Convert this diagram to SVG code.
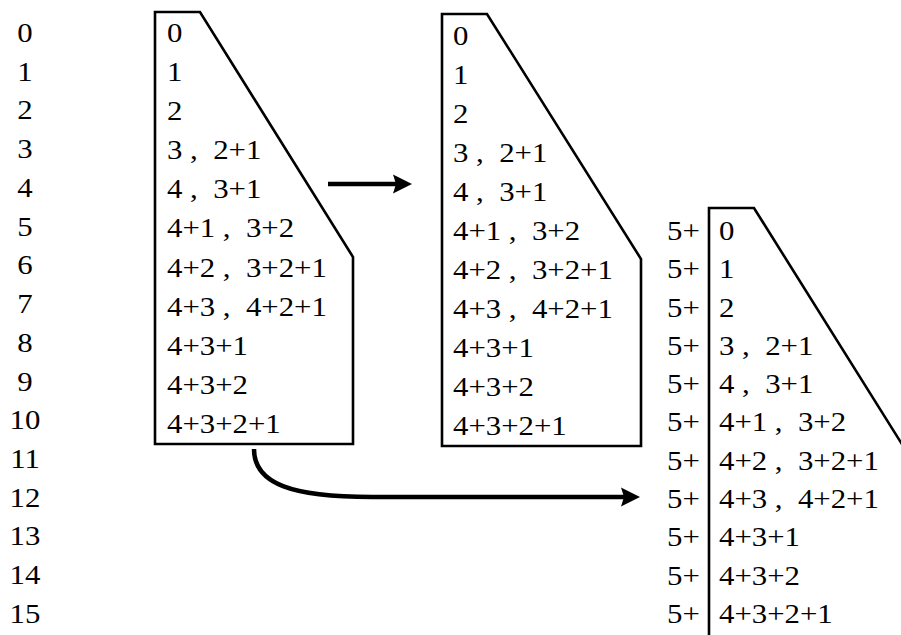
<svg xmlns="http://www.w3.org/2000/svg" width="901" height="635" viewBox="0 0 901 635">
<style>
.t{font-family:"Liberation Serif","Times New Roman",serif;font-size:28px;fill:#000}
.c{text-anchor:middle}
.box{fill:#fff;stroke:#000;stroke-width:2.6;stroke-linejoin:miter}
.edge{fill:none;stroke:#000;stroke-width:4.5}
</style>
<defs>
<marker id="ah" markerUnits="userSpaceOnUse" markerWidth="22" markerHeight="20" refX="7" refY="9.5" orient="auto" overflow="visible">
<path d="M0,0 L19,9.5 L0,19 L3,9.5 Z" fill="#000"/>
</marker>
</defs>
<rect width="901" height="635" fill="#fff"/>
<g id="index-column">
<g transform="translate(25 0) scale(1.1 1)">
<text class="t c" x="0" y="42">0</text>
<text class="t c" x="0" y="80.7">1</text>
<text class="t c" x="0" y="119.5">2</text>
<text class="t c" x="0" y="158.2">3</text>
<text class="t c" x="0" y="196.9">4</text>
<text class="t c" x="0" y="235.7">5</text>
<text class="t c" x="0" y="274.4">6</text>
<text class="t c" x="0" y="313.1">7</text>
<text class="t c" x="0" y="351.8">8</text>
<text class="t c" x="0" y="390.6">9</text>
<text class="t c" x="0" y="429.3">10</text>
<text class="t c" x="0" y="468">11</text>
<text class="t c" x="0" y="506.8">12</text>
<text class="t c" x="0" y="545.5">13</text>
<text class="t c" x="0" y="584.2">14</text>
<text class="t c" x="0" y="623">15</text>
</g>
</g>
<g id="box1">
<path class="box" d="M155,12 H200 L353,257 V444 H155 Z"/>
<g transform="translate(167 0) scale(1.1 1)">
<text class="t" x="0" y="42">0</text>
<text class="t" x="0" y="81.1">1</text>
<text class="t" x="0" y="120.2">2</text>
<text class="t" x="0" y="159.3">3 ,&#160; 2+1</text>
<text class="t" x="0" y="198.4">4 ,&#160; 3+1</text>
<text class="t" x="0" y="237.5">4+1 ,&#160; 3+2</text>
<text class="t" x="0" y="276.6">4+2 ,&#160; 3+2+1</text>
<text class="t" x="0" y="315.7">4+3 ,&#160; 4+2+1</text>
<text class="t" x="0" y="354.8">4+3+1</text>
<text class="t" x="0" y="393.9">4+3+2</text>
<text class="t" x="0" y="433">4+3+2+1</text>
</g>
</g>
<g id="box2">
<path class="box" d="M442,14 H487 L641,259 V446 H442 Z"/>
<g transform="translate(453 0) scale(1.1 1)">
<text class="t" x="0" y="45">0</text>
<text class="t" x="0" y="84">1</text>
<text class="t" x="0" y="123">2</text>
<text class="t" x="0" y="162">3 ,&#160; 2+1</text>
<text class="t" x="0" y="201">4 ,&#160; 3+1</text>
<text class="t" x="0" y="240">4+1 ,&#160; 3+2</text>
<text class="t" x="0" y="279">4+2 ,&#160; 3+2+1</text>
<text class="t" x="0" y="318">4+3 ,&#160; 4+2+1</text>
<text class="t" x="0" y="357">4+3+1</text>
<text class="t" x="0" y="396">4+3+2</text>
<text class="t" x="0" y="435">4+3+2+1</text>
</g>
</g>
<g id="box3">
<path class="box" d="M709,640 V208 H754 L920,473"/>
<g transform="translate(667 0) scale(1.1 1)">
<text class="t" x="0" y="240">5+</text>
<text class="t" x="0" y="278.3">5+</text>
<text class="t" x="0" y="316.6">5+</text>
<text class="t" x="0" y="354.9">5+</text>
<text class="t" x="0" y="393.2">5+</text>
<text class="t" x="0" y="431.5">5+</text>
<text class="t" x="0" y="469.8">5+</text>
<text class="t" x="0" y="508.1">5+</text>
<text class="t" x="0" y="546.4">5+</text>
<text class="t" x="0" y="584.7">5+</text>
<text class="t" x="0" y="623">5+</text>
</g>
<g transform="translate(719 0) scale(1.1 1)">
<text class="t" x="0" y="240">0</text>
<text class="t" x="0" y="278.3">1</text>
<text class="t" x="0" y="316.6">2</text>
<text class="t" x="0" y="354.9">3 ,&#160; 2+1</text>
<text class="t" x="0" y="393.2">4 ,&#160; 3+1</text>
<text class="t" x="0" y="431.5">4+1 ,&#160; 3+2</text>
<text class="t" x="0" y="469.8">4+2 ,&#160; 3+2+1</text>
<text class="t" x="0" y="508.1">4+3 ,&#160; 4+2+1</text>
<text class="t" x="0" y="546.4">4+3+1</text>
<text class="t" x="0" y="584.7">4+3+2</text>
<text class="t" x="0" y="623">4+3+2+1</text>
</g>
</g>
<g id="connectors">
<path class="edge" d="M328,184 H400" marker-end="url(#ah)"/>
<path class="edge" d="M254,449 C254,484 292,497 372,497 H628" marker-end="url(#ah)"/>
</g>
</svg>
